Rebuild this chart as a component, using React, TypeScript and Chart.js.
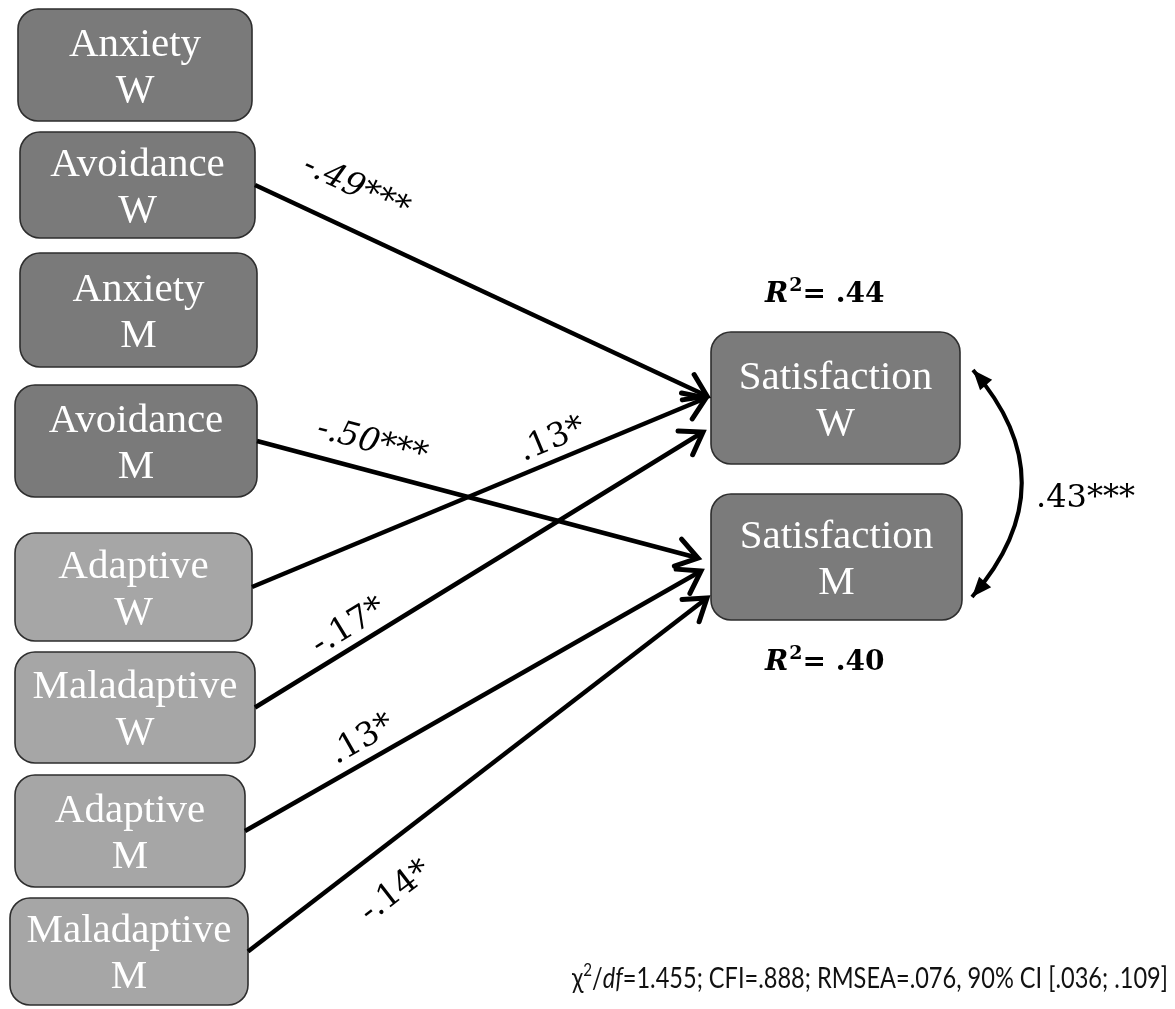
import React, { useEffect, useRef } from "react";
import { Chart, registerables } from "chart.js";

Chart.register(...registerables);

// ---------------- DATA ----------------
const nodeLines: string[][] = [
  ["Anxiety", "W"],
  ["Avoidance", "W"],
  ["Anxiety", "M"],
  ["Avoidance", "M"],
  ["Adaptive", "W"],
  ["Maladaptive", "W"],
  ["Adaptive", "M"],
  ["Maladaptive", "M"],
  ["Satisfaction", "W"],
  ["Satisfaction", "M"],
];
const nodeGroup = ["attachment", "attachment", "attachment", "attachment", "coping", "coping", "coping", "coping", "outcome", "outcome"];

const pathFrom = [1, 3, 4, 5, 6, 7];
const pathTo = [8, 9, 8, 8, 9, 9];
const pathCoef = ["-.49***", "-.50***", ".13*", "-.17*", ".13*", "-.14*"];

const r2Values = [".44", ".40"];
const covariance = ".43***";
const fitChi = "1.455";
const fitCFI = ".888";
const fitRMSEA = ".076";
const fitCI = ["90%", ".036", ".109"];

// ---------------- LAYOUT (diagram units = px) ----------------
const W = 1175;
const H = 1009;
const nodeBoxes: number[][] = [
  [18, 9, 252, 121],
  [20, 132, 255, 238],
  [20, 253, 257, 367],
  [15, 385, 257, 497],
  [15, 533, 252, 641],
  [15, 652, 255, 763],
  [15, 775, 245, 887],
  [10, 898, 248, 1005],
  [711, 332, 960, 464],
  [711, 494, 962, 620],
];
const groupFill: Record<string, string> = {
  attachment: "#7a7a7a",
  coping: "#a6a6a6",
  outcome: "#7b7b7b",
};
const pathTips: number[][] = [
  [707, 396],
  [698, 558],
  [706, 398],
  [703, 432],
  [701, 571],
  [707, 598],
];
const pathLabelPos: number[][] = [
  [356, 188],
  [372, 443],
  [552, 440],
  [349, 627],
  [362, 740],
  [396, 892],
];
const pathLabelItalic = [true, true, false, false, false, false];
const covStart = [973, 370];
const covCtrl = [1071, 483];
const covEnd = [972, 597];
const covLabelPos = [1036, 507];
const r2Pos: number[][] = [
  [765, 302],
  [765, 670],
];
const fitPos = [572, 988];
const fitWidth = 596;

const SERIF = '"Liberation Serif", "DejaVu Serif", serif';
const SERIF2 = '"DejaVu Serif", "Liberation Serif", serif';
const SANS = 'Lato, "Noto Sans", sans-serif';

const diagramPlugin = {
  id: "diagram",
  beforeDatasetsDraw(chart: any) {
    const { ctx, scales } = chart;
    const px = (v: number) => scales.x.getPixelForValue(v);
    const py = (v: number) => scales.y.getPixelForValue(v);
    ctx.save();
    nodeBoxes.forEach((b, i) => {
      const x0 = px(b[0]), y0 = py(b[1]), x1 = px(b[2]), y1 = py(b[3]);
      ctx.beginPath();
      (ctx as any).roundRect(x0, y0, x1 - x0, y1 - y0, 20);
      ctx.fillStyle = groupFill[nodeGroup[i]];
      ctx.fill();
      ctx.lineWidth = 1.6;
      ctx.strokeStyle = "#2e2e2e";
      ctx.stroke();
      const cx = (x0 + x1) / 2;
      const cy = (y0 + y1) / 2;
      ctx.fillStyle = "#ffffff";
      ctx.font = `41px ${SERIF}`;
      ctx.textAlign = "center";
      ctx.textBaseline = "alphabetic";
      const spacing = 46;
      const cap = 27;
      const b1 = cy - spacing / 2 + cap / 2;
      nodeLines[i].forEach((t, k) => ctx.fillText(t, cx, b1 + k * spacing));
    });
    ctx.restore();
  },
  afterDatasetsDraw(chart: any) {
    const { ctx, scales } = chart;
    const px = (v: number) => scales.x.getPixelForValue(v);
    const py = (v: number) => scales.y.getPixelForValue(v);
    ctx.save();
    // arrowheads (open)
    pathFrom.forEach((f, i) => {
      const b = nodeBoxes[f];
      const sx = px(b[2]), sy = py((b[1] + b[3]) / 2);
      const tx = px(pathTips[i][0]), ty = py(pathTips[i][1]);
      const a = Math.atan2(ty - sy, tx - sx);
      const L = 25, phi = (34 * Math.PI) / 180;
      ctx.beginPath();
      ctx.moveTo(tx - L * Math.cos(a - phi), ty - L * Math.sin(a - phi));
      ctx.lineTo(tx, ty);
      ctx.lineTo(tx - L * Math.cos(a + phi), ty - L * Math.sin(a + phi));
      ctx.lineWidth = 5;
      ctx.lineCap = "round";
      ctx.lineJoin = "miter";
      ctx.strokeStyle = "#000";
      ctx.stroke();
      // label
      const [lx, ly] = pathLabelPos[i];
      ctx.save();
      ctx.translate(px(lx), py(ly));
      ctx.rotate(a);
      ctx.fillStyle = "#000";
      ctx.font = `${pathLabelItalic[i] ? "italic " : ""}33px ${SERIF2}`;
      ctx.textAlign = "center";
      ctx.textBaseline = "middle";
      ctx.fillText(pathCoef[i], 0, 0);
      ctx.restore();
    });

    // covariance curve
    const p0 = [px(covStart[0]), py(covStart[1])];
    const c = [px(covCtrl[0]), py(covCtrl[1])];
    const p2 = [px(covEnd[0]), py(covEnd[1])];
    ctx.beginPath();
    ctx.moveTo(p0[0], p0[1]);
    ctx.quadraticCurveTo(c[0], c[1], p2[0], p2[1]);
    ctx.lineWidth = 4;
    ctx.lineCap = "butt";
    ctx.strokeStyle = "#000";
    ctx.stroke();
    const head = (tip: number[], from: number[]) => {
      const a = Math.atan2(tip[1] - from[1], tip[0] - from[0]);
      const L = 20, hw = 8;
      const bx = tip[0] - L * Math.cos(a), by = tip[1] - L * Math.sin(a);
      ctx.beginPath();
      ctx.moveTo(tip[0], tip[1]);
      ctx.lineTo(bx + hw * Math.sin(a), by - hw * Math.cos(a));
      ctx.lineTo(bx - hw * Math.sin(a), by + hw * Math.cos(a));
      ctx.closePath();
      ctx.fillStyle = "#000";
      ctx.fill();
    };
    head(p0, c);
    head(p2, c);
    ctx.fillStyle = "#000";
    ctx.font = `32px ${SERIF2}`;
    ctx.textAlign = "left";
    ctx.textBaseline = "alphabetic";
    ctx.fillText(covariance, px(covLabelPos[0]), py(covLabelPos[1]));

    // R² labels
    r2Values.forEach((v, i) => {
      let x = px(r2Pos[i][0]);
      const y = py(r2Pos[i][1]);
      ctx.textAlign = "left";
      ctx.font = `italic bold 28px ${SERIF2}`;
      ctx.fillText("R", x, y);
      x += ctx.measureText("R").width + 1;
      ctx.font = `bold 19px ${SERIF2}`;
      ctx.fillText("2", x, y - 11);
      x += ctx.measureText("2").width;
      ctx.font = `bold 28px ${SERIF2}`;
      ctx.fillText("= " + v, x, y);
    });

    // fit statistics (fitted to the measured width)
    {
      const fs = 28;
      const rest = `=${fitChi}; CFI=${fitCFI}; RMSEA=${fitRMSEA}, ${fitCI[0]} CI [${fitCI[1]}; ${fitCI[2]}]`;
      const parts = [
        { t: "χ", f: `${fs}px ${SANS}`, dy: 0 },
        { t: "2", f: `${Math.round(fs * 0.65)}px ${SANS}`, dy: -fs * 0.42 },
        { t: "/", f: `${fs}px ${SANS}`, dy: 0 },
        { t: "df", f: `italic ${fs}px ${SANS}`, dy: 0 },
        { t: rest, f: `${fs}px ${SANS}`, dy: 0 },
      ];
      const total = parts.reduce((s, p) => {
        ctx.font = p.f;
        return s + ctx.measureText(p.t).width;
      }, 0);
      const k = fitWidth / total;
      ctx.save();
      ctx.translate(px(fitPos[0]), py(fitPos[1]));
      ctx.scale(k, 1);
      ctx.textAlign = "left";
      ctx.fillStyle = "#111";
      let x = 0;
      parts.forEach((p) => {
        ctx.font = p.f;
        ctx.fillText(p.t, x, p.dy);
        x += ctx.measureText(p.t).width;
      });
      ctx.restore();
    }
    ctx.restore();
  },
};

export default function App() {
  const ref = useRef<HTMLCanvasElement | null>(null);
  useEffect(() => {
    document.body.style.margin = "0";
    if (!ref.current) return;
    const datasets = pathFrom.map((f, i) => {
      const b = nodeBoxes[f];
      return {
        label: `${nodeLines[f].join(" ")} → ${nodeLines[pathTo[i]].join(" ")}`,
        data: [
          { x: b[2], y: (b[1] + b[3]) / 2 },
          { x: pathTips[i][0], y: pathTips[i][1] },
        ],
        showLine: true,
        borderColor: "#000",
        borderWidth: 4.5,
        pointRadius: 0,
        fill: false,
        tension: 0,
      };
    });
    const chart = new Chart(ref.current, {
      type: "scatter",
      data: { datasets },
      options: {
        animation: false,
        responsive: true,
        maintainAspectRatio: false,
        layout: { padding: 0 },
        plugins: { legend: { display: false }, tooltip: { enabled: false } },
        scales: {
          x: { type: "linear", min: 0, max: W, display: false },
          y: { type: "linear", min: 0, max: H, reverse: true, display: false },
        },
      },
      plugins: [diagramPlugin],
    } as any);
    return () => chart.destroy();
  }, []);
  return (
    <div style={{ width: W, height: H, position: "relative", background: "#fff" }}>
      <canvas ref={ref} />
    </div>
  );
}
